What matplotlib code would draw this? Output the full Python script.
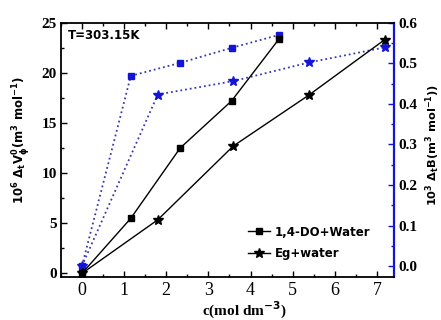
import numpy as np
import matplotlib
matplotlib.use("Agg")
import matplotlib.pyplot as plt
from matplotlib.ticker import MultipleLocator, FormatStrFormatter

# data
c_do = [0, 1.16, 2.33, 3.55, 4.68]
dv_do = [0.0, 5.5, 12.5, 17.2, 23.4]
db_do = [0.0, 0.469, 0.501, 0.538, 0.570]

c_eg = [0, 1.80, 3.59, 5.39, 7.18]
dv_eg = [0.0, 5.35, 12.7, 17.8, 23.3]
db_eg = [0.0, 0.423, 0.456, 0.502, 0.539]

plt.rcParams['mathtext.default'] = 'bf'
plt.rcParams['font.family'] = 'Liberation Serif'

BLUE = '#1414d8'

fig = plt.figure(figsize=(4.41, 3.2), dpi=100)
ax = fig.add_axes([0.138, 0.133, 0.755, 0.796])
ax2 = ax.twinx()

# right axis: B coefficient (drawn behind the black series)
ax2.plot(c_do, db_do, ':', color='#3a3ab0', lw=1.3, marker='s', ms=5,
         mfc=BLUE, mec=BLUE)
ax2.plot(c_eg, db_eg, ':', color='#3a3ab0', lw=1.3, marker='*', ms=7,
         mfc=BLUE, mec=BLUE)

# left axis: volume
ax.plot(c_do, dv_do, '-', color='black', lw=1.0, marker='s', ms=5, label='1,4-DO+Water')
ax.plot(c_eg, dv_eg, '-', color='black', lw=1.0, marker='*', ms=7, label='Eg+water')
ax.set_zorder(ax2.get_zorder() + 1)
ax.patch.set_visible(False)

ax.set_xlim(-0.5, 7.4)
ax.set_ylim(-0.4, 25)
ax2.set_ylim(-0.028, 0.6)

ax.xaxis.set_major_locator(MultipleLocator(1))
ax.xaxis.set_minor_locator(MultipleLocator(0.5))
ax.yaxis.set_major_locator(MultipleLocator(5))
ax.yaxis.set_minor_locator(MultipleLocator(2.5))
ax2.yaxis.set_major_locator(MultipleLocator(0.1))
ax2.yaxis.set_minor_locator(MultipleLocator(0.05))
ax2.yaxis.set_major_formatter(FormatStrFormatter('%.1f'))

ax.tick_params(which='both', direction='in', top=True, right=False, width=1.0)
ax.tick_params(which='major', length=4)
ax.tick_params(which='minor', length=2)
ax.tick_params(axis='x', labelsize=13, pad=3)
ax.tick_params(axis='y', labelsize=11, pad=3)
ax2.tick_params(which='both', direction='in', color=BLUE, width=1.0)
ax2.tick_params(which='major', length=4, labelsize=11, pad=3)
ax2.tick_params(which='minor', length=2)

for lab in ax.get_yticklabels() + ax2.get_yticklabels():
    lab.set_fontweight('bold')

for s in ['left', 'bottom', 'top']:
    ax.spines[s].set_linewidth(1.3)
ax.spines['right'].set_visible(False)
ax2.spines['right'].set_color(BLUE)
ax2.spines['right'].set_linewidth(1.6)
for s in ['left', 'bottom', 'top']:
    ax2.spines[s].set_visible(False)

ax.set_xlabel(r'c(mol dm$^{-3}$)', fontweight='bold', fontsize=11, labelpad=0)
ax.xaxis.set_label_coords(0.55, -0.09)
ax.set_ylabel(r'10$^6$ $\Delta_t$V$_\phi^0$(m$^3$ mol$^{-1}$)', fontfamily='DejaVu Sans',
              fontweight='bold', fontsize=8.5)
ax.yaxis.set_label_coords(-0.088, 0.54)
ax2.set_ylabel(r'10$^3$ $\Delta_t$B(m$^3$ mol$^{-1}$))', fontfamily='DejaVu Sans',
               fontweight='bold', fontsize=8.2)
ax2.yaxis.set_label_coords(1.088, 0.52)

ax.text(0.02, 0.975, 'T=303.15K', transform=ax.transAxes, fontsize=8.5,
        fontfamily='DejaVu Sans', fontweight='bold', va='top', ha='left')

ax.legend(loc='center left', bbox_to_anchor=(0.53, 0.135), frameon=False,
          handlelength=1.9, handletextpad=0.4, labelspacing=0.75,
          prop={'family': 'DejaVu Sans', 'weight': 'bold', 'size': 8.5})

fig.savefig('out.png', dpi=100)
